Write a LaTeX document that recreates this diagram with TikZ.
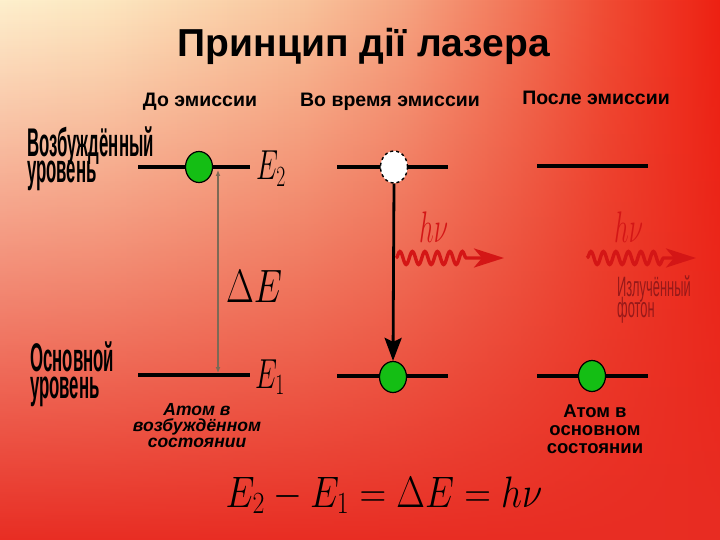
\RequirePackage{fix-cm}
\documentclass[tikz,border=0pt]{standalone}
\usepackage[no-math]{fontspec}
\usepackage{graphicx}
\usetikzlibrary{shapes.geometric, arrows.meta, positioning, decorations.pathmorphing, fadings}
\newfontfamily\labelfont{Liberation Sans}
\newfontfamily\narrowfont[FakeStretch=0.42]{Liberation Sans}
\newfontfamily\photonfont[FakeStretch=0.46]{Liberation Sans}
\newcommand\tightlines{\lineskiplimit=-40pt\relax}
\definecolor{bgA}{RGB}{254,240,205}
\definecolor{bgB}{RGB}{253,232,193}
\definecolor{bgC}{RGB}{249,196,156}
\definecolor{bgD}{RGB}{246,165,130}
\definecolor{bgE}{RGB}{243,122,92}
\definecolor{bgF}{RGB}{240,76,52}
\definecolor{bgG}{RGB}{238,32,18}
\definecolor{bgred}{RGB}{232,45,35}
\definecolor{dotgreen}{RGB}{20,190,20}
\definecolor{photonred}{RGB}{212,22,22}
\definecolor{gapgray}{RGB}{125,105,85}
\definecolor{labelred}{RGB}{150,25,25}
\pgfdeclarehorizontalshading{slidebg}{100bp}{color(0bp)=(bgA); color(25bp)=(bgA); color(32bp)=(bgB); color(46bp)=(bgC); color(53bp)=(bgD); color(60bp)=(bgE); color(67bp)=(bgF); color(75bp)=(bgG); color(100bp)=(bgG)}
\tikzfading[name=fade bottom, top color=transparent!100, middle color=transparent!88, bottom color=transparent!0]
\tikzset{
    level/.style={line width=4.5pt},
    electron/.style={ellipse, draw, line width=1.2pt, fill=dotgreen, minimum width=27pt, minimum height=31pt, inner sep=0pt},
    hole/.style={ellipse, draw, dashed, line width=1.4pt, fill=white, minimum width=27pt, minimum height=32pt, inner sep=0pt},
    photon/.style={photonred, line width=3.4pt, decorate, decoration={snake, segment length=12.5pt, amplitude=6.5pt, post length=32pt}, -{Stealth[length=30pt, width=19pt, inset=8pt]}},
    gap/.style={gapgray, line width=1.3pt, {Latex[length=6pt, width=5pt]}-{Latex[length=6pt, width=5pt]}},
    fall/.style={line width=2.8pt, -{Stealth[length=23pt, width=17pt, inset=4pt]}},
    colhead/.style={font=\labelfont\bfseries\fontsize{19.5}{22}\selectfont, anchor=base, inner sep=0pt},
    sidelabel/.style={font=\narrowfont\bfseries\fontsize{40}{26.5}\selectfont\tightlines, align=left, anchor=base west, inner sep=0pt},
    atomlabel/.style={align=center, anchor=base, inner sep=0pt},
    mathlabel/.style={anchor=base west, inner sep=0pt}
}
\begin{document}
\begin{tikzpicture}[x=1pt, y=-1pt]
    \shade[shading=slidebg] (0,0) rectangle (720,540);
    \fill[bgred, path fading=fade bottom] (0,0) rectangle (720,540);
    \useasboundingbox (0,0) rectangle (720,540);

    \node[font=\labelfont\bfseries\fontsize{39}{42}\selectfont, anchor=base, inner sep=0pt] (title) at (364,57) {Принцип дії лазера};

    \node[colhead] (hdBefore) at (200,107) {До эмиссии};
    \node[colhead] (hdDuring) at (390,107) {Во время эмиссии};
    \node[colhead] (hdAfter) at (596,105) {После эмиссии};

    \node[sidelabel] (upperName) at (27,183) {Возбуждённый\\уровень};
    \node[sidelabel] (lowerName) at (30,398) {Основной\\уровень};

    \draw[level] (138,167) -- (250,167);
    \draw[level] (138,375) -- (250,375);
    \draw[level] (337,167) -- (448,167);
    \draw[level] (337,376) -- (448,376);
    \draw[level] (537,166) -- (648,166);
    \draw[level] (537,376) -- (648,376);

    \coordinate (gapTop) at (218,170);
    \coordinate (gapBot) at (218,373);
    \draw[gap] (gapBot) -- (gapTop);

    \node[electron] (elA2) at (199,167) {};
    \node[hole] (elB2) at (394,167) {};
    \node[electron] (elB1) at (393,377) {};
    \node[electron] (elC1) at (592,376) {};
    \draw[fall] (elB2.south) -- (elB1.north);

    \coordinate (phBs) at (396,258);
    \coordinate (phBe) at (504,258);
    \coordinate (phCs) at (587,258);
    \coordinate (phCe) at (696,258);
    \draw[photon] (phBs) -- (phBe);
    \draw[photon] (phCs) -- (phCe);

    \node[mathlabel, font=\fontsize{28}{30}\selectfont] (labE2) at (256,180) {\scalebox{1}[1.5]{$E_2$}};
    \node[mathlabel, font=\fontsize{28}{30}\selectfont] (labE1) at (255,388) {\scalebox{1}[1.5]{$E_1$}};
    \node[mathlabel, font=\fontsize{36}{38}\selectfont] (labdE) at (226,302) {\scalebox{1}[1.3]{$\Delta E$}};
    \node[mathlabel, font=\fontsize{26}{28}\selectfont, text=photonred] (hnuB) at (419,243) {\scalebox{1}[1.7]{$h\nu$}};
    \node[mathlabel, font=\fontsize{26}{28}\selectfont, text=photonred] (hnuC) at (614,243) {\scalebox{1}[1.7]{$h\nu$}};

    \node[font=\photonfont\fontsize{28}{20.5}\selectfont\tightlines, text=labelred, align=left, anchor=base west, inner sep=0pt] (emitted) at (617,317) {Излучённый\\фотон};

    \node[atomlabel, font=\labelfont\bfseries\itshape\fontsize{17.5}{16}\selectfont\tightlines] (atomExc) at (197,447) {Атом в\\возбуждённом\\состоянии};
    \node[atomlabel, font=\labelfont\bfseries\fontsize{18.5}{18}\selectfont\tightlines] (atomGnd) at (595,453) {Атом в\\основном\\состоянии};

    \node[anchor=base, inner sep=0pt, font=\fontsize{37}{40}\selectfont] (energy) at (384,507) {\scalebox{1}[1.19]{$E_2-E_1=\Delta E=h\nu$}};
\end{tikzpicture}
\end{document}
